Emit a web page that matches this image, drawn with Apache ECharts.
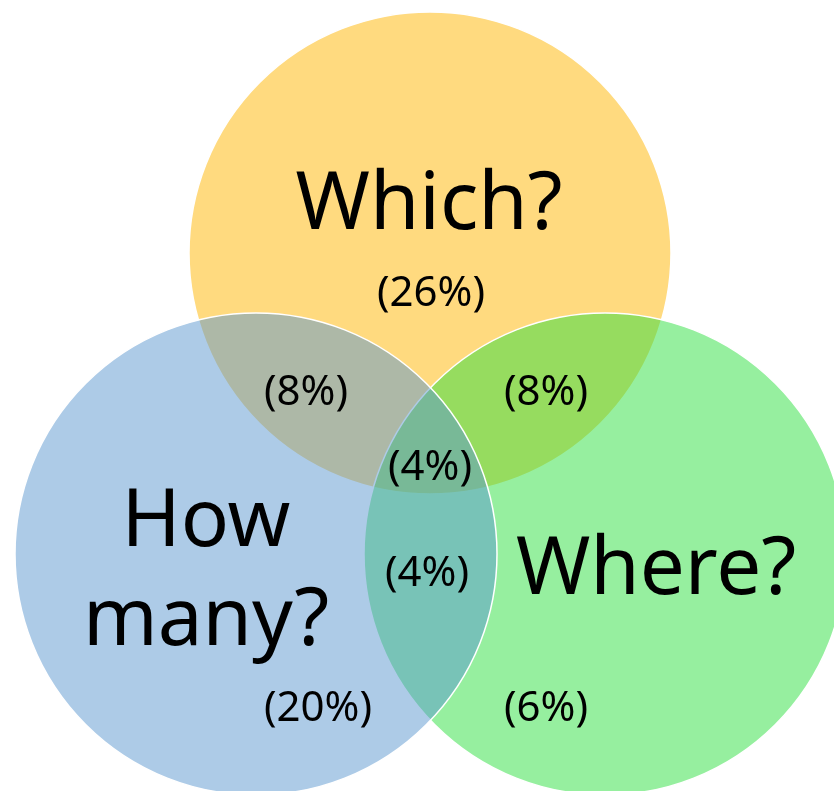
<!DOCTYPE html>
<html>
<head>
<meta charset="utf-8">
<script src="https://cdn.jsdelivr.net/npm/echarts@6/dist/echarts.min.js"></script>
<style>
  html, body { margin: 0; padding: 0; background: #fff }
  #chart { width: 834px; height: 791px }
</style>
</head>
<body>
<div id="chart"></div>
<script>
// sets, drawn bottom to top (yellow, green, blue)
const setNames = ['Which?', 'Where?', 'How many?']
const setColors = ['rgba(255,181,0,0.5)', 'rgba(45,224,63,0.5)', 'rgba(91,151,207,0.5)']
// circle centres and radius in chart units
const circleX = [430, 605, 256]
const circleY = [253, 554, 554]
const circleR = [241, 241, 241]

// region shares (%)
const regionNames = ['Which only', 'How many only', 'Where only', 'Which & How many', 'Which & Where', 'All three', 'How many & Where']
const regionShares = [26, 20, 6, 8, 8, 4, 4]
// label anchors
const regionX = [431, 318, 546, 306, 546, 430, 427]
const regionY = [294, 709, 709, 393, 393, 468, 574]

// set name anchors
const nameX = [429, 656, 206]
const nameY = [206, 571, 573]

const chart = echarts.init(document.getElementById('chart'))

const circleData = setNames.map((n, i) => [circleX[i], circleY[i], circleR[i], i])
const regionData = regionShares.map((v, i) => [regionX[i], regionY[i], v, i])
const nameData = setNames.map((n, i) => [nameX[i], nameY[i], i])

const FONT = '"Noto Sans", sans-serif'

chart.setOption({
  animation: false,
  grid: { left: 0, right: 0, top: 0, bottom: 0 },
  xAxis: { type: 'value', min: 0, max: 834, show: false },
  yAxis: { type: 'value', min: 0, max: 791, inverse: true, show: false },
  series: [
    {
      type: 'custom',
      data: circleData,
      renderItem(params, api) {
        const c = api.coord([api.value(0), api.value(1)])
        const r = api.size([api.value(2), 0])[0]
        return {
          type: 'circle',
          shape: { cx: c[0], cy: c[1], r: r },
          style: { fill: setColors[api.value(3)], stroke: '#fff', lineWidth: 1.5 }
        }
      }
    },
    {
      type: 'custom',
      data: nameData,
      z: 3,
      renderItem(params, api) {
        const c = api.coord([api.value(0), api.value(1)])
        const name = setNames[api.value(2)].replace(' ', '\n')
        return {
          type: 'text',
          x: c[0], y: c[1],
          style: {
            text: name, fill: '#000', font: '80px ' + FONT,
            align: 'center', verticalAlign: 'middle', lineHeight: 99
          }
        }
      }
    },
    {
      type: 'custom',
      data: regionData,
      z: 3,
      renderItem(params, api) {
        const c = api.coord([api.value(0), api.value(1)])
        return {
          type: 'text',
          x: c[0], y: c[1],
          style: {
            text: '(' + api.value(2) + '%)', fill: '#000', font: '42px ' + FONT,
            align: 'center', verticalAlign: 'middle'
          }
        }
      }
    }
  ]
})
</script>
</body>
</html>
